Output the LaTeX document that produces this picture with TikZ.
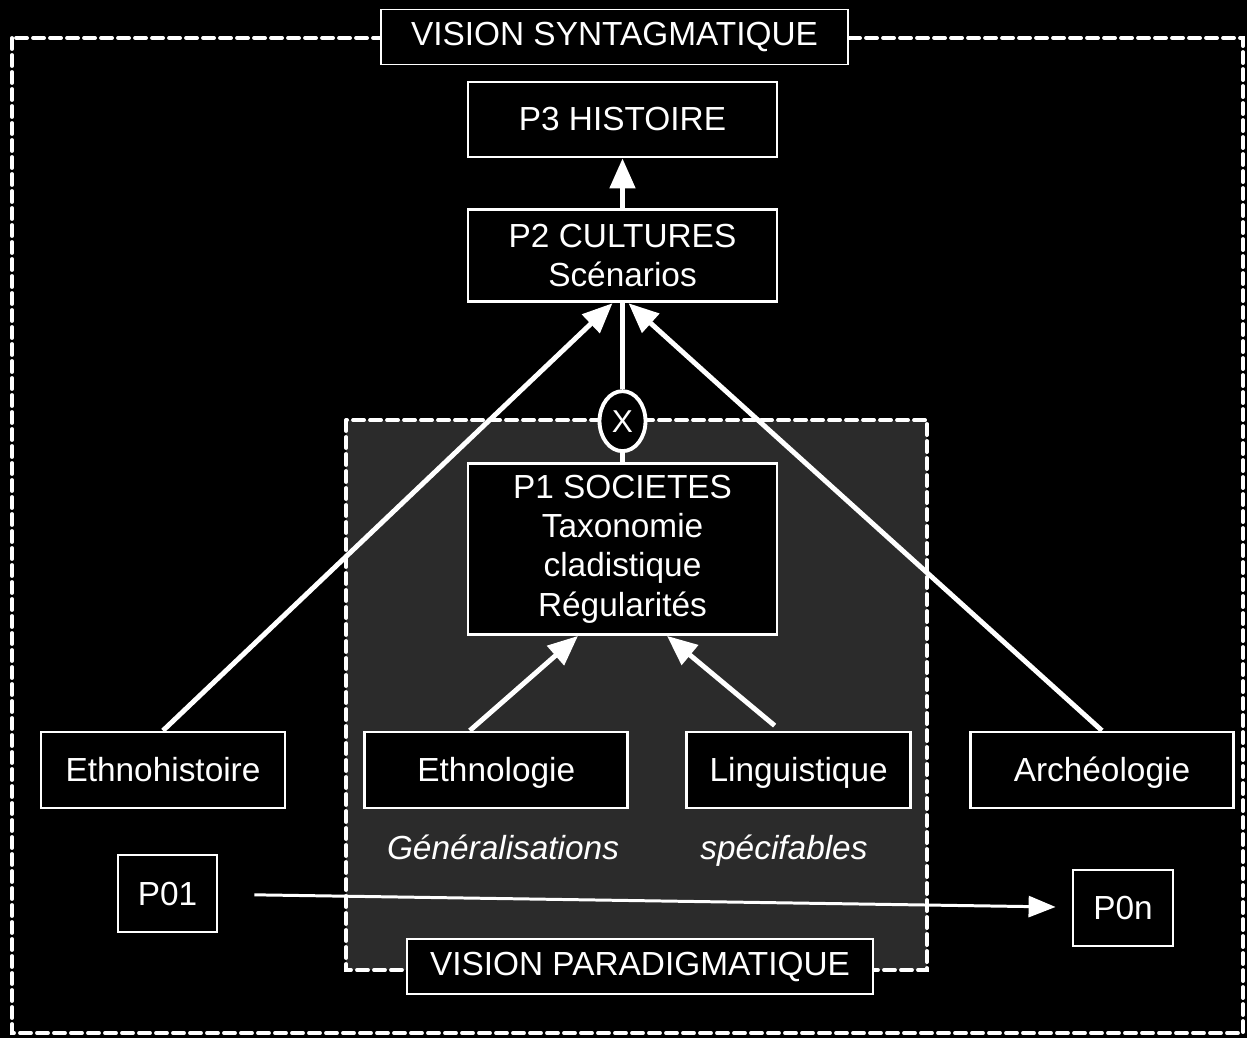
\documentclass[tikz,border=0pt]{standalone}
\usepackage{fontspec}
\setmainfont{Liberation Sans}
\usepackage{tikz}
\usetikzlibrary{shapes.geometric, arrows.meta, positioning, backgrounds}

\begin{document}
\begin{tikzpicture}[
    font=\fontsize{19}{22.4}\selectfont,
    % Styles
    box/.style={rectangle, draw=white, fill=black, text=white, line width=1.6pt, align=center, inner sep=2pt},
    word/.style={box, minimum height=1.52cm, text height=13.6pt, text depth=0pt},
    label/.style={rectangle, draw=white, fill=black, text=white, line width=1pt, minimum height=1.1cm, align=center},
    note/.style={text=white, text height=13.6pt, text depth=0pt, font=\fontsize{19}{22.4}\selectfont\itshape},
    cross/.style={ellipse, draw=white, fill=black, text=white, line width=2.2pt, minimum width=0.92cm, minimum height=1.2cm, inner sep=0pt, font=\fontsize{18}{20}\selectfont},
    frame/.style={draw=white, line width=2.2pt, dash pattern=on 0.22cm off 0.12cm, line cap=round},
    arrow/.style={-{Triangle[length=0.6cm, width=0.5cm]}, draw=white, line width=2.8pt},
    link/.style={draw=white, line width=2.4pt},
    flow/.style={-{Triangle[length=0.54cm, width=0.42cm]}, draw=white, line width=1.7pt}
]

% ------------------- MAIN COLUMN -------------------
\node[label, minimum width=9.34cm] (synt) at (12.29,-0.74) {VISION SYNTAGMATIQUE};
\node[box, minimum width=6.18cm, minimum height=1.5cm] (p3) at (12.45,-2.39) {P3 HISTOIRE};
\node[box, minimum width=6.18cm, minimum height=1.84cm, below=1.0cm of p3] (p2) {P2 CULTURES\\Scénarios};
\node[cross, below=1.72cm of p2] (x) {X};
\node[box, minimum width=6.18cm, minimum height=3.42cm, below=0.18cm of x] (p1) {P1 SOCIETES\\Taxonomie\\cladistique\\Régularités};

% ------------------- DISCIPLINES -------------------
\node[word, minimum width=4.88cm] (ethnohist) at (3.26,-15.40) {Ethnohistoire};
\node[word, minimum width=5.26cm, right=1.54cm of ethnohist] (ethnol) {Ethnologie};
\node[word, minimum width=4.48cm, right=1.12cm of ethnol] (ling) {Linguistique};
\node[word, minimum width=5.26cm, right=1.14cm of ling] (arch) {Archéologie};

\node[note] (gen) at (10.06,-16.96) {Généralisations};
\node[note] (spec) at (15.68,-16.96) {spécifables};

% ------------------- P0 SERIES -------------------
\node[word, minimum width=1.98cm, minimum height=1.54cm] (p01) at (3.35,-17.87) {P01};
\node[word, minimum width=2.0cm] (p0n) at (22.46,-18.16) {P0n};
\node[label, minimum width=9.32cm] (para) at (12.80,-19.33) {VISION PARADIGMATIQUE};

% ------------------- CONNECTORS -------------------
\draw[arrow] (p2) -- (p3);
\draw[link] (p2.south) -- (x.north);
\draw[link] (x.south) -- (p1.north);
\draw[arrow] (ethnohist.north) -- ([xshift=-0.2cm]p2.south);
\draw[arrow] (arch.north) -- ([xshift=0.12cm]p2.south);
\draw[arrow] ([xshift=-0.53cm]ethnol.north) -- ([xshift=-0.89cm]p1.south);
\draw[arrow] ([xshift=-0.48cm, yshift=0.1cm]ling.north) -- ([xshift=0.89cm]p1.south);
\draw[flow, shorten <=0.72cm, shorten >=0.32cm] (p01) -- (p0n);

% ------------------- FRAMES -------------------
\begin{scope}[on background layer]
\path[use as bounding box, fill=black] (0,0) rectangle (24.94,-20.76);
\draw[frame] (0.24,-0.76) rectangle (24.86,-20.66);
\draw[frame, fill=white!17!black] (6.92,-8.40) rectangle (18.54,-19.40);
\end{scope}

\end{tikzpicture}
\end{document}
